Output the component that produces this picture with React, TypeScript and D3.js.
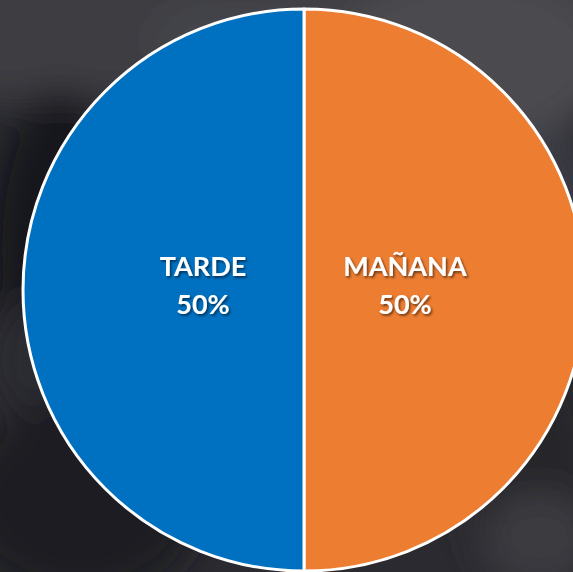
import React from "react";
import * as d3 from "d3";

const categories = ["MAÑANA", "TARDE"];
const values = [50, 50];
const colors = ["#ED7D31", "#0070C0"];

const W = 573;
const H = 572;
const cx = 304;
const cy = 290;
const R = 281;

export default function App() {
  const pie = d3.pie<number>().sort(null).value((d) => d);
  const arcs = pie(values);
  const arc = d3.arc<d3.PieArcDatum<number>>().innerRadius(0).outerRadius(R);
  const labelArc = d3.arc<d3.PieArcDatum<number>>().innerRadius(0).outerRadius(202);
  const total = d3.sum(values);
  const fmt = d3.format(".0%");

  return (
    <svg
      width={W}
      height={H}
      style={{ position: "absolute", left: 0, top: 0, display: "block" }}
    >
      <defs>
        <filter id="bgblur" x="-20%" y="-20%" width="140%" height="140%">
          <feGaussianBlur stdDeviation="18" />
        </filter>
        <filter id="tshadow" x="-20%" y="-20%" width="140%" height="140%">
          <feDropShadow dx="1.5" dy="1.8" stdDeviation="1.2" floodColor="#000" floodOpacity="0.55" />
        </filter>
      </defs>
      <rect x={0} y={0} width={W} height={H} fill="#2a2a30" />
      <g filter="url(#bgblur)">
        <rect x={-40} y={-40} width={W + 80} height={140} fill="#3c3c42" />
        <ellipse cx={470} cy={60} rx={140} ry={90} fill="#4c4c50" />
        <ellipse cx={540} cy={220} rx={60} ry={90} fill="#3a3b44" />
        <ellipse cx={240} cy={40} rx={90} ry={40} fill="#45454b" />
        <ellipse cx={60} cy={250} rx={70} ry={160} fill="#17171a" />
        <ellipse cx={30} cy={360} rx={40} ry={60} fill="#2c2c33" />
        <ellipse cx={80} cy={500} rx={120} ry={100} fill="#1c1b21" />
        <ellipse cx={530} cy={460} rx={70} ry={120} fill="#25252b" />
        <ellipse cx={540} cy={540} rx={60} ry={50} fill="#3a3a40" />
      </g>
      <g transform={`translate(${cx},${cy})`}>
        {arcs.map((a, i) => (
          <path
            key={categories[i]}
            d={arc(a) || ""}
            fill={colors[i]}
            stroke="#ffffff"
            strokeWidth={3}
            strokeLinejoin="round"
          />
        ))}
        {arcs.map((a, i) => {
          const [x, y] = labelArc.centroid(a);
          return (
            <text
              key={"l" + categories[i]}
              x={x}
              y={y}
              textAnchor="middle"
              fill="#ffffff"
              fontFamily="Lato, 'Open Sans', sans-serif"
              fontWeight={700}
              fontSize={27}
              filter="url(#tshadow)"
            >
              <tspan x={x} dy={-14}>{categories[i]}</tspan>
              <tspan x={x} dy={38}>{fmt(values[i] / total)}</tspan>
            </text>
          );
        })}
      </g>
    </svg>
  );
}
